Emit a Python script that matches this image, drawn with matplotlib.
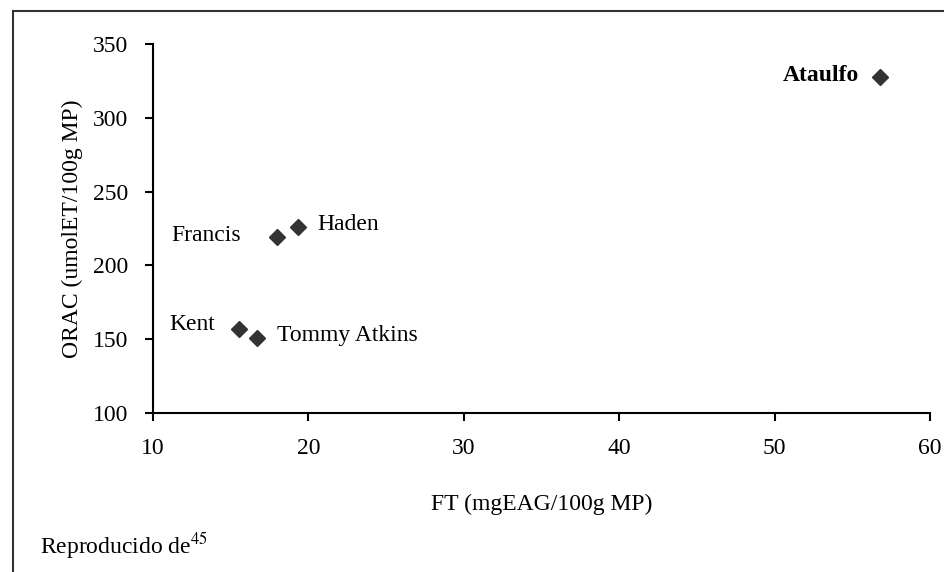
import matplotlib
matplotlib.use("Agg")
import matplotlib.pyplot as plt
from matplotlib.lines import Line2D

# FT vs ORAC por variedad de mango
varieties = ["Ataulfo", "Haden", "Francis", "Kent", "Tommy Atkins"]
ft = [56.8, 19.3, 18.0, 15.5, 16.7]
orac = [327.5, 226.0, 219.5, 157.0, 150.5]

# desplazamientos de las etiquetas (pixeles) y alineacion
offsets = {"Ataulfo": (-21, 2, "right"), "Haden": (20, 3, "left"),
           "Francis": (-36, 1, "right"), "Kent": (-23, 4, "right"),
           "Tommy Atkins": (20, 3, "left")}

plt.rcParams["font.family"] = ["Liberation Serif", "DejaVu Serif"]
plt.rcParams["mathtext.fontset"] = "stix"

fig = plt.figure(figsize=(9.45, 5.72), dpi=100)
ax = fig.add_axes([0.162, 0.278, 0.822, 0.645])

ax.plot(ft, orac, "D", color="#333333", markersize=8, linestyle="none")

for name, x, y in zip(varieties, ft, orac):
    dx, dy, ha = offsets[name]
    ax.annotate(name, (x, y), xytext=(dx, dy), textcoords="offset pixels",
                ha=ha, va="center", fontsize=17,
                fontweight="bold" if name == "Ataulfo" else "normal")

ax.set_xlim(10, 60)
ax.set_ylim(100, 350)
ax.set_xticks([10, 20, 30, 40, 50, 60])
ax.set_yticks([100, 150, 200, 250, 300, 350])
ax.tick_params(direction="out", length=6, width=1.5, labelsize=17, pad=12)
ax.spines["top"].set_visible(False)
ax.spines["right"].set_visible(False)
ax.spines["left"].set_linewidth(1.5)
ax.spines["bottom"].set_linewidth(1.5)

ax.set_xlabel("FT (mgEAG/100g MP)", fontsize=17, labelpad=25)
ax.set_ylabel("ORAC (umolET/100g MP)", fontsize=17, labelpad=7)

fig.text(0.042, 0.032, "Reproducido de$^{\\mathrm{45}}$", fontsize=17, va="baseline")

# marco de la figura (solo arriba y a la izquierda)
fig.add_artist(Line2D([0.0138, 1.0], [0.980, 0.980], color="#333333", lw=1.5,
                      transform=fig.transFigure))
fig.add_artist(Line2D([0.0138, 0.0138], [0.0, 0.980], color="#333333", lw=1.5,
                      transform=fig.transFigure))

fig.savefig("out.png", dpi=100)
